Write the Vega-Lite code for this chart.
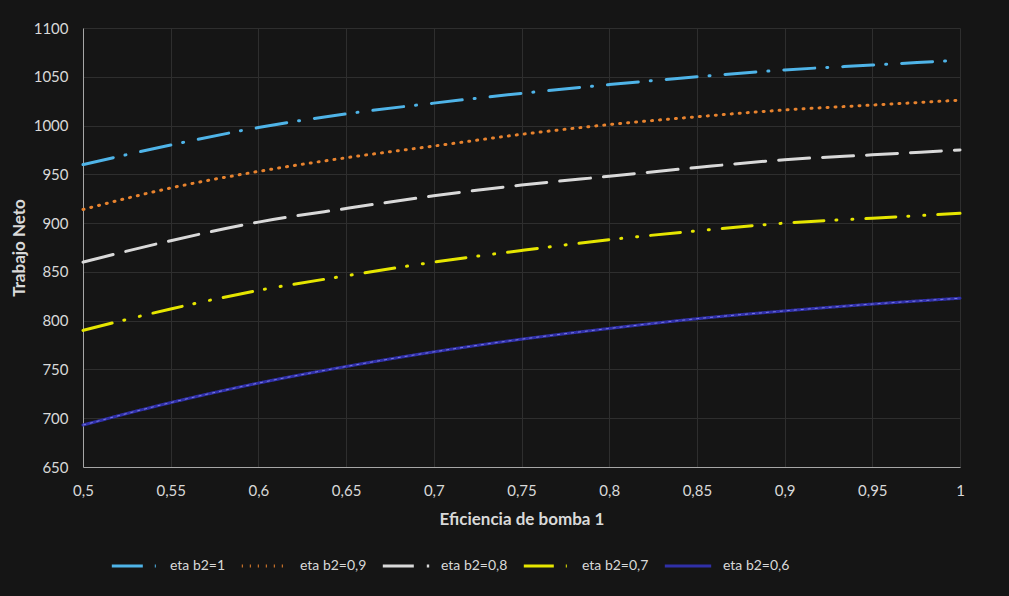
{
  "$schema": "https://vega.github.io/schema/vega-lite/v6.json",
  "width": 877,
  "height": 439,
  "autosize": {"type": "none"},
  "padding": {"left": 83, "top": 28, "right": 49, "bottom": 129},
  "background": "#151515",
  "config": {
    "view": {"stroke": null},
    "font": "Lato",
    "axis": {
      "labelColor": "#d9d9d9",
      "titleColor": "#d9d9d9",
      "labelFont": "Lato",
      "titleFont": "Lato",
      "labelFontSize": 15,
      "titleFontSize": 17,
      "titleFontWeight": "bold",
      "gridColor": "#2e2e2e",
      "gridWidth": 1,
      "domainColor": "#a6a6a6",
      "ticks": false
    },
    "legend": {
      "labelColor": "#d9d9d9",
      "labelFont": "Lato",
      "labelFontSize": 14
    }
  },
  "data": {
    "values": [
      {"x": 0.5, "y": 960, "s": "eta b2=1"},
      {"x": 0.55, "y": 980, "s": "eta b2=1"},
      {"x": 0.6, "y": 998, "s": "eta b2=1"},
      {"x": 0.65, "y": 1012, "s": "eta b2=1"},
      {"x": 0.7, "y": 1023, "s": "eta b2=1"},
      {"x": 0.75, "y": 1033, "s": "eta b2=1"},
      {"x": 0.8, "y": 1042, "s": "eta b2=1"},
      {"x": 0.85, "y": 1050, "s": "eta b2=1"},
      {"x": 0.9, "y": 1057, "s": "eta b2=1"},
      {"x": 0.95, "y": 1062, "s": "eta b2=1"},
      {"x": 1, "y": 1067, "s": "eta b2=1"},
      {"x": 0.5, "y": 914, "s": "eta b2=0,9"},
      {"x": 0.55, "y": 936, "s": "eta b2=0,9"},
      {"x": 0.6, "y": 953, "s": "eta b2=0,9"},
      {"x": 0.65, "y": 967, "s": "eta b2=0,9"},
      {"x": 0.7, "y": 979, "s": "eta b2=0,9"},
      {"x": 0.75, "y": 991, "s": "eta b2=0,9"},
      {"x": 0.8, "y": 1001, "s": "eta b2=0,9"},
      {"x": 0.85, "y": 1009, "s": "eta b2=0,9"},
      {"x": 0.9, "y": 1016, "s": "eta b2=0,9"},
      {"x": 0.95, "y": 1021, "s": "eta b2=0,9"},
      {"x": 1, "y": 1026, "s": "eta b2=0,9"},
      {"x": 0.5, "y": 860, "s": "eta b2=0,8"},
      {"x": 0.55, "y": 882, "s": "eta b2=0,8"},
      {"x": 0.6, "y": 901, "s": "eta b2=0,8"},
      {"x": 0.65, "y": 915, "s": "eta b2=0,8"},
      {"x": 0.7, "y": 928, "s": "eta b2=0,8"},
      {"x": 0.75, "y": 939, "s": "eta b2=0,8"},
      {"x": 0.8, "y": 948, "s": "eta b2=0,8"},
      {"x": 0.85, "y": 957, "s": "eta b2=0,8"},
      {"x": 0.9, "y": 965, "s": "eta b2=0,8"},
      {"x": 0.95, "y": 970, "s": "eta b2=0,8"},
      {"x": 1, "y": 975, "s": "eta b2=0,8"},
      {"x": 0.5, "y": 790, "s": "eta b2=0,7"},
      {"x": 0.55, "y": 812, "s": "eta b2=0,7"},
      {"x": 0.6, "y": 831, "s": "eta b2=0,7"},
      {"x": 0.65, "y": 846, "s": "eta b2=0,7"},
      {"x": 0.7, "y": 860, "s": "eta b2=0,7"},
      {"x": 0.75, "y": 872, "s": "eta b2=0,7"},
      {"x": 0.8, "y": 883, "s": "eta b2=0,7"},
      {"x": 0.85, "y": 892, "s": "eta b2=0,7"},
      {"x": 0.9, "y": 900, "s": "eta b2=0,7"},
      {"x": 0.95, "y": 905, "s": "eta b2=0,7"},
      {"x": 1, "y": 910, "s": "eta b2=0,7"},
      {"x": 0.5, "y": 693, "s": "eta b2=0,6"},
      {"x": 0.55, "y": 716, "s": "eta b2=0,6"},
      {"x": 0.6, "y": 736, "s": "eta b2=0,6"},
      {"x": 0.65, "y": 753, "s": "eta b2=0,6"},
      {"x": 0.7, "y": 768, "s": "eta b2=0,6"},
      {"x": 0.75, "y": 781, "s": "eta b2=0,6"},
      {"x": 0.8, "y": 792, "s": "eta b2=0,6"},
      {"x": 0.85, "y": 802, "s": "eta b2=0,6"},
      {"x": 0.9, "y": 810, "s": "eta b2=0,6"},
      {"x": 0.95, "y": 817, "s": "eta b2=0,6"},
      {"x": 1, "y": 823, "s": "eta b2=0,6"}
    ]
  },
  "encoding": {
    "x": {
      "field": "x", "type": "quantitative",
      "scale": {"domain": [0.5, 1], "nice": false, "zero": false},
      "axis": {"values": [0.5, 0.55, 0.6, 0.65, 0.7, 0.75, 0.8, 0.85, 0.9, 0.95, 1], "labelExpr": "replace(toString(datum.value), '.', ',')", "title": "Eficiencia de bomba 1", "labelPadding": 16, "titlePadding": 13, "labelFlush": false}
    },
    "y": {
      "field": "y", "type": "quantitative",
      "scale": {"domain": [650, 1100], "nice": false, "zero": false},
      "axis": {"values": [650, 700, 750, 800, 850, 900, 950, 1000, 1050, 1100], "format": "d", "title": "Trabajo Neto", "labelPadding": 15, "titlePadding": 5}
    }
  },
  "layer": [
    {
      "mark": {"type": "line", "strokeWidth": 3, "interpolate": "monotone", "strokeCap": "round"},
      "encoding": {
        "color": {
          "field": "s", "type": "nominal",
          "scale": {
            "domain": ["eta b2=1", "eta b2=0,9", "eta b2=0,8", "eta b2=0,7", "eta b2=0,6"],
            "range": ["#4fb4e8", "#e8832e", "#d9d9d9", "#e6e600", "#3030a8"]
          },
          "legend": {
            "title": null, "orient": "none", "direction": "horizontal",
            "legendX": 27, "legendY": 513,
            "symbolType": "stroke", "symbolSize": 2150, "symbolStrokeWidth": 3,
            "columnPadding": 9, "labelOffset": 10
          }
        },
        "strokeDash": {
          "field": "s", "type": "nominal",
          "scale": {
            "domain": ["eta b2=1", "eta b2=0,9", "eta b2=0,8", "eta b2=0,7", "eta b2=0,6"],
            "range": [[31, 12, 1, 15], [1, 7], [31, 13], [30, 12, 1, 15, 1, 13], [1, 0]]
          },
          "legend": null
        }
      }
    },
    {
      "transform": [{"filter": "datum.s === 'eta b2=0,6'"}],
      "mark": {"type": "line", "strokeWidth": 1, "interpolate": "monotone", "strokeDash": [3, 4], "color": "#8c8cf0", "opacity": 0.8}
    }
  ]
}
